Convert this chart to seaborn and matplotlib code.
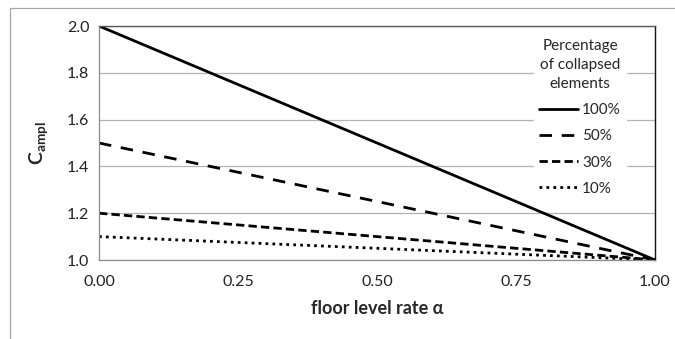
import pandas as pd
import seaborn as sns
import matplotlib.pyplot as plt
from matplotlib.patches import Rectangle
from matplotlib.ticker import FormatStrFormatter

# data: C_ampl at alpha = 0 and alpha = 1
alpha = [0.0, 1.0]
series = ["100%", "50%", "30%", "10%"]
c_start = [2.0, 1.5, 1.2, 1.1]
c_end = [1.0, 1.0, 1.0, 1.0]

rows = []
for name, a, b in zip(series, c_start, c_end):
    rows.append({"alpha": alpha[0], "C": a, "pct": name})
    rows.append({"alpha": alpha[1], "C": b, "pct": name})
df = pd.DataFrame(rows)

sns.set_style("white")
plt.rcParams["font.family"] = ["Lato", "DejaVu Sans"]
plt.rcParams["mathtext.fontset"] = "custom"
plt.rcParams["mathtext.rm"] = "Lato"
plt.rcParams["mathtext.bf"] = "Lato:bold"

fig = plt.figure(figsize=(6.75, 3.39), dpi=100)
ax = fig.add_axes([99 / 675, 1 - 260 / 339, 556 / 675, 234 / 339])

# outer chart frame (only left and top visible)
fig.patches.append(Rectangle((10 / 675, -0.2), 1.2, 1 - 8 / 339 + 0.2,
                             transform=fig.transFigure, fill=False,
                             edgecolor="#a6a6a6", linewidth=0.9))

dashes = {"100%": "", "50%": (4.5, 3.5), "30%": (3, 1.5), "10%": (1, 1.5)}
sns.lineplot(data=df, x="alpha", y="C", hue="pct", style="pct",
             hue_order=series, style_order=series,
             palette=["black"] * 4, dashes=dashes, linewidth=2.0, ax=ax)

ax.set_xlim(0, 1)
ax.set_ylim(1.0, 2.0)
ax.set_xticks([0, 0.25, 0.5, 0.75, 1.0])
ax.set_yticks([1.0, 1.2, 1.4, 1.6, 1.8, 2.0])
ax.xaxis.set_major_formatter(FormatStrFormatter("%.2f"))
ax.yaxis.set_major_formatter(FormatStrFormatter("%.1f"))
ax.yaxis.grid(True, color="#b3b3b3", linewidth=0.9)
ax.set_axisbelow(True)
ax.tick_params(axis="both", labelsize=11.5, colors="#222222", length=4,
               width=0.9, direction="out", pad=3)
ax.tick_params(axis="both", color="#8c8c8c")
ax.tick_params(axis="x", pad=7)

for s in ["left", "bottom"]:
    ax.spines[s].set_color("#8c8c8c")
    ax.spines[s].set_linewidth(0.9)
ax.spines["top"].set_color("#595959")
ax.spines["top"].set_linewidth(1.0)
ax.spines["right"].set_color("#111111")
ax.spines["right"].set_linewidth(1.0)

ax.set_xlabel("floor level rate α", fontsize=13, fontweight="bold", labelpad=8)
ax.set_ylabel(r"$\mathbf{C_{ampl}}$", fontsize=14)
ax.yaxis.set_label_coords(-0.088, 0.5)

leg = ax.legend(title="Percentage\nof collapsed\nelements", loc="upper right",
                bbox_to_anchor=(0.962, 1.0), frameon=True, fancybox=False,
                fontsize=11, title_fontsize=11, handlelength=2.5,
                handletextpad=0.3, labelspacing=0.8, borderpad=0.35)
leg.get_frame().set_edgecolor("white")
leg.get_frame().set_facecolor("white")
leg.get_frame().set_alpha(1.0)
leg.get_title().set_multialignment("center")
leg.get_title().set_linespacing(1.45)

fig.savefig("out.png", dpi=100)
